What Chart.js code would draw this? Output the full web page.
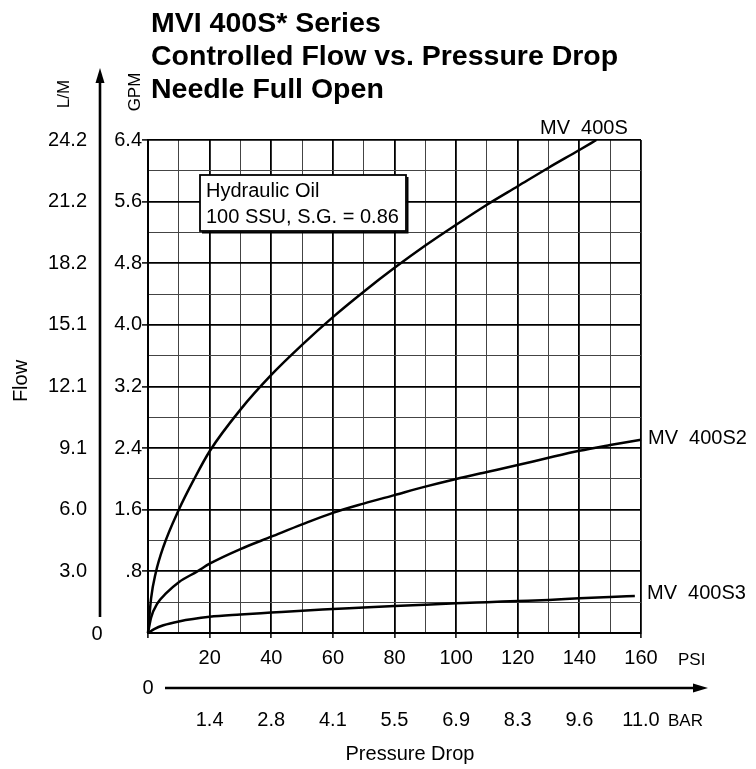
<!DOCTYPE html>
<html><head><meta charset="utf-8">
<script src="https://cdn.jsdelivr.net/npm/chart.js@4"></script>
<style>html,body{margin:0;padding:0;background:#fff}#wrap{position:relative;width:756px;height:769px}</style>
</head><body><div id="wrap"><canvas id="c"></canvas></div>
<script>
const titleLines = ['MVI 400S* Series', 'Controlled Flow vs. Pressure Drop', 'Needle Full Open'];
const psiTicks = ['20', '40', '60', '80', '100', '120', '140', '160'];
const barTicks = ['1.4', '2.8', '4.1', '5.5', '6.9', '8.3', '9.6', '11.0'];
const gpmTicks = ['.8', '1.6', '2.4', '3.2', '4.0', '4.8', '5.6', '6.4'];
const lmTicks = ['3.0', '6.0', '9.1', '12.1', '15.1', '18.2', '21.2', '24.2'];
const seriesNames = ['MV  400S', 'MV  400S2', 'MV  400S3'];
const noteLines = ['Hydraulic Oil', '100 SSU, S.G. = 0.86'];

const psiS1 = [0, 1, 2.5, 5, 10, 15, 20, 30, 40, 50, 60, 70, 80, 90, 100, 110, 120, 130, 140, 145.5];
const gpmS1 = [0, 0.45, 0.78, 1.12, 1.6, 2.0, 2.36, 2.9, 3.35, 3.74, 4.1, 4.43, 4.74, 5.03, 5.3, 5.56, 5.8, 6.04, 6.27, 6.4];
const psiS2 = [0, 1, 3, 6, 10, 16, 20, 30, 40, 50, 60, 70, 80, 90, 100, 110, 120, 130, 140, 150, 160];
const gpmS2 = [0, 0.2, 0.38, 0.52, 0.66, 0.8, 0.9, 1.09, 1.25, 1.41, 1.56, 1.68, 1.79, 1.9, 2.0, 2.09, 2.18, 2.275, 2.365, 2.44, 2.51];
const psiS3 = [0, 2, 5, 10, 20, 30, 40, 50, 60, 70, 80, 90, 100, 110, 120, 130, 140, 150, 158];
const gpmS3 = [0, 0.05, 0.1, 0.15, 0.21, 0.24, 0.265, 0.29, 0.31, 0.33, 0.35, 0.368, 0.385, 0.4, 0.415, 0.43, 0.45, 0.467, 0.48];

const FONT = '"Liberation Sans", Arial, Helvetica, sans-serif';
const pts = (xs, ys) => xs.map((x, i) => ({x: x, y: ys[i]}));
const ds = (name, xs, ys) => ({
  label: name, data: pts(xs, ys), borderColor: '#000', borderWidth: 2.5,
  pointRadius: 0, fill: false, cubicInterpolationMode: 'monotone', clip: 4
});

function arrow(c, x1, y1, x2, y2, w, hl, hw) {
  c.lineWidth = w;
  const ang = Math.atan2(y2 - y1, x2 - x1);
  const bx = x2 - hl * Math.cos(ang), by = y2 - hl * Math.sin(ang);
  c.beginPath(); c.moveTo(x1, y1); c.lineTo(bx, by); c.stroke();
  c.beginPath();
  c.moveTo(x2, y2);
  c.lineTo(bx + hw * Math.sin(ang), by - hw * Math.cos(ang));
  c.lineTo(bx - hw * Math.sin(ang), by + hw * Math.cos(ang));
  c.closePath(); c.fill();
}

const deco = {
  id: 'deco',
  beforeDraw(chart) {
    const c = chart.ctx; c.save(); c.fillStyle = '#fff'; c.fillRect(0, 0, chart.width, chart.height); c.restore();
  },
  afterDraw(chart) {
    const c = chart.ctx, a = chart.chartArea, xs = chart.scales.x, ys = chart.scales.y;
    c.save();
    c.fillStyle = '#000'; c.strokeStyle = '#000';
    // title
    c.font = 'bold 28.5px ' + FONT;
    c.textAlign = 'left'; c.textBaseline = 'alphabetic';
    titleLines.forEach((t, i) => c.fillText(t, 151, 32 + i * 33));
    // vertical flow arrow
    arrow(c, 100, 617, 100, 68, 2.6, 15, 4.5);
    // rotated labels
    const rot = (txt, x, y, font) => {
      c.save(); c.translate(x, y); c.rotate(-Math.PI / 2);
      c.font = font; c.textAlign = 'center'; c.textBaseline = 'middle';
      c.fillText(txt, 0, 0); c.restore();
    };
    rot('L/M', 64, 94, '17px ' + FONT);
    rot('GPM', 135, 92, '17px ' + FONT);
    rot('Flow', 21, 381, '20px ' + FONT);
    // origin zeros
    c.font = '20px ' + FONT; c.textAlign = 'center'; c.textBaseline = 'middle';
    c.fillText('0', 97, ys.getPixelForValue(0) + 1);
    c.fillText('0', xs.getPixelForValue(0), 688);
    // horizontal pressure arrow
    arrow(c, 165, 688, 708, 688, 2.6, 15, 4.5);
    // unit labels
    c.font = '17px ' + FONT; c.textAlign = 'left';
    c.fillText('PSI', 678, 660);
    c.fillText('BAR', 668, 721);
    c.font = '20px ' + FONT; c.textAlign = 'center';
    c.fillText('Pressure Drop', 410, 754);
    // note box
    const bx = 200, by = 175, bw = 206, bh = 56;
    c.fillStyle = '#fff'; c.fillRect(bx, by, bw, bh);
    c.lineWidth = 1.8; c.strokeRect(bx, by, bw, bh);
    c.lineWidth = 2;
    c.beginPath(); c.moveTo(bx + bw + 1.5, by + 2); c.lineTo(bx + bw + 1.5, by + bh + 1.5); c.lineTo(bx + 2, by + bh + 1.5); c.stroke();
    c.fillStyle = '#000'; c.font = '20px ' + FONT; c.textAlign = 'left'; c.textBaseline = 'middle';
    c.fillText(noteLines[0], bx + 6, 191);
    c.fillText(noteLines[1], bx + 6, 217);
    // series labels
    c.font = '20px ' + FONT;
    c.fillText(seriesNames[0], 540, 128);
    c.fillText(seriesNames[1], 648, 438);
    c.fillText(seriesNames[2], 647, 593);
    c.restore();
  }
};

const major = (ctx) => ctx.index % 2 === 0;

new Chart(document.getElementById('c'), {
  type: 'line',
  data: { datasets: [ds(seriesNames[0], psiS1, gpmS1), ds(seriesNames[1], psiS2, gpmS2), ds(seriesNames[2], psiS3, gpmS3)] },
  options: {
    responsive: true, maintainAspectRatio: false, animation: false,
    layout: { padding: { left: 0, top: 140, right: 115, bottom: 31 } },
    plugins: { legend: { display: false }, title: { display: false }, tooltip: { enabled: false } },
    scales: {
      x: {
        type: 'linear', position: 'bottom', min: 0, max: 160, weight: 0,
        border: { display: true, color: '#000', width: 2 },
        grid: {
          color: (ctx) => major(ctx) ? '#000' : '#444',
          lineWidth: (ctx) => major(ctx) ? 1.8 : 1,
          tickLength: 5,
          tickColor: (ctx) => major(ctx) ? '#000' : 'rgba(0,0,0,0)',
          tickWidth: 1.5
        },
        ticks: {
          stepSize: 10, autoSkip: false, maxRotation: 0, padding: 8, color: '#000',
          font: { family: FONT, size: 20 },
          callback: (v, i) => (i % 2 === 0 && i > 0) ? psiTicks[i / 2 - 1] : ''
        },
        afterFit: (s) => { s.height = 45; }
      },
      x2: {
        type: 'linear', position: 'bottom', min: 0, max: 160, weight: 1,
        border: { display: false }, grid: { display: false, drawTicks: false },
        ticks: {
          stepSize: 20, autoSkip: false, maxRotation: 0, padding: 30, color: '#000',
          font: { family: FONT, size: 20 },
          callback: (v, i) => i > 0 ? barTicks[i - 1] : ''
        },
        afterFit: (s) => { s.height = 60; }
      },
      y: {
        type: 'linear', position: 'left', min: 0, max: 6.4, weight: 0,
        border: { display: true, color: '#000', width: 2 },
        grid: {
          color: (ctx) => major(ctx) ? '#000' : '#444',
          lineWidth: (ctx) => major(ctx) ? 1.8 : 1,
          tickLength: 6,
          tickColor: (ctx) => (major(ctx) && ctx.index > 0) ? '#000' : 'rgba(0,0,0,0)',
          tickWidth: 1.5
        },
        ticks: {
          stepSize: 0.4, autoSkip: false, padding: 0, color: '#000',
          font: { family: FONT, size: 20 },
          callback: (v, i) => (i % 2 === 0 && i > 0) ? gpmTicks[i / 2 - 1] : ''
        },
        afterFit: (s) => { s.width = 48; }
      },
      y2: {
        type: 'linear', position: 'left', min: 0, max: 6.4, weight: 1,
        border: { display: false }, grid: { display: false, drawTicks: false },
        ticks: {
          stepSize: 0.8, autoSkip: false, padding: 13, color: '#000',
          font: { family: FONT, size: 20 },
          callback: (v, i) => i > 0 ? lmTicks[i - 1] : ''
        },
        afterFit: (s) => { s.width = 100; }
      }
    }
  },
  plugins: [deco]
});
</script></body></html>
